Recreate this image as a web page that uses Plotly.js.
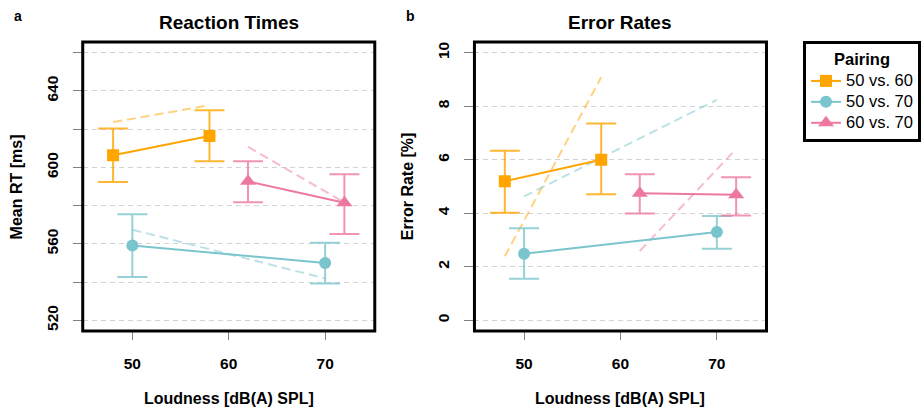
<!DOCTYPE html>
<html>
<head>
<meta charset="utf-8">
<script src="https://cdn.plot.ly/plotly-3.0.1.min.js"></script>
<style>html,body{margin:0;padding:0;background:#fff;}#chart{width:921px;height:412px;}</style>
</head>
<body>
<div id="chart"></div>
<script>
// ---------- data ----------
const pairings = ["50 vs. 60", "50 vs. 70", "60 vs. 70"];
const xPos_5060 = [48, 58];
const xPos_5070 = [50, 70];
const xPos_6070 = [62, 72];

// Reaction times (ms): mean, upper CI, lower CI, dashed reference line
const rt_5060 = [606.4, 616.4];
const rt_5060_hi = [620.4, 629.9];
const rt_5060_lo = [592.3, 603.2];
const rt_5060_dash = [623.7, 632.5];

const rt_5070 = [559.1, 550.0];
const rt_5070_hi = [575.5, 560.6];
const rt_5070_lo = [542.6, 539.3];
const rt_5070_dash = [567.4, 541.9];

const rt_6070 = [592.7, 581.5];
const rt_6070_hi = [603.2, 596.4];
const rt_6070_lo = [581.7, 565.2];
const rt_6070_dash = [610.7, 581.7];

// Error rates (%)
const er_5060 = [5.20, 6.00];
const er_5060_hi = [6.34, 7.35];
const er_5060_lo = [4.02, 4.71];
const er_5060_dash = [2.39, 9.08];

const er_5070 = [2.49, 3.30];
const er_5070_hi = [3.44, 3.90];
const er_5070_lo = [1.55, 2.67];
const er_5070_dash = [4.63, 8.24];

const er_6070 = [4.75, 4.69];
const er_6070_hi = [5.46, 5.35];
const er_6070_lo = [3.99, 3.92];
const er_6070_dash = [2.59, 6.40];

const xTicks = [50, 60, 70];
const rtTickVals = [520, 540, 560, 580, 600, 620, 640, 660];
const rtTickText = ["520", "", "560", "", "600", "", "640", ""];
const erTickVals = [0, 2, 4, 6, 8, 10];
const erTickText = ["0", "2", "4", "6", "8", "10"];

// ---------- styles ----------
const FONT = "Liberation Sans, Arial, Helvetica, sans-serif";
const cols = ["#FFA500", "#7AC5CD", "#EE799F"];
const colsErr = ["rgba(255,165,0,0.8)", "rgba(122,197,205,0.8)", "rgba(238,121,159,0.8)"];
const colsDash = ["rgba(255,165,0,0.5)", "rgba(122,197,205,0.5)", "rgba(238,121,159,0.5)"];
const symbols = ["square", "circle", "triangle-up"];
const msize = [12, 12, 14];

function diff(a, b) { return a.map((v, i) => v - b[i]); }

function panelTraces(xs, means, his, los, dashes, xa, ya, legend) {
  const out = [];
  for (let k = 0; k < 3; k++) {
    out.push({
      x: xs[k], y: dashes[k], xaxis: xa, yaxis: ya, type: "scatter", mode: "lines",
      line: {color: colsDash[k], width: 2, dash: "9px,5px"}, showlegend: false, hoverinfo: "skip"
    });
  }
  for (let k = 0; k < 3; k++) {
    out.push({
      x: xs[k], y: means[k], xaxis: xa, yaxis: ya, type: "scatter", mode: "lines+markers",
      name: '<span style="font-size:16.5px">' + pairings[k] + '</span>', showlegend: legend,
      line: {color: cols[k], width: 2},
      marker: {color: cols[k], symbol: symbols[k], size: msize[k]},
      error_y: {type: "data", symmetric: false, array: diff(his[k], means[k]),
                arrayminus: diff(means[k], los[k]), color: colsErr[k], thickness: 2, width: 15}
    });
  }
  return out;
}

const xs = [xPos_5060, xPos_5070, xPos_6070];
const data = [].concat(
  panelTraces(xs, [rt_5060, rt_5070, rt_6070], [rt_5060_hi, rt_5070_hi, rt_6070_hi],
              [rt_5060_lo, rt_5070_lo, rt_6070_lo], [rt_5060_dash, rt_5070_dash, rt_6070_dash], "x", "y", true),
  panelTraces(xs, [er_5060, er_5070, er_6070], [er_5060_hi, er_5070_hi, er_6070_hi],
              [er_5060_lo, er_5070_lo, er_6070_lo], [er_5060_dash, er_5070_dash, er_6070_dash], "x2", "y2", false)
);

const W = 921, H = 412;
const px = v => v / W, py = v => 1 - v / H;

function xAxis(dom, anchor) {
  return {domain: dom, anchor: anchor, range: [44.85, 75.15], tickvals: xTicks, ticktext: xTicks.map(String),
    ticks: "outside", ticklen: 8, tickwidth: 1, tickcolor: "#808080", showgrid: false, zeroline: false,
    showline: false, tickfont: {family: FONT, size: 15.5, color: "#000", weight: "bold"}, ticklabelstandoff: 10,
    fixedrange: true};
}
function yAxis(dom, anchor, range, vals, text) {
  return {domain: dom, anchor: anchor, range: range, tickvals: vals, ticktext: text,
    ticks: "outside", ticklen: 9, tickwidth: 1, tickcolor: "#808080", showgrid: true,
    gridcolor: "#D3D3D3", griddash: "5px,4px", gridwidth: 1, zeroline: false, showline: false,
    tickangle: -90, tickfont: {family: FONT, size: 15.5, color: "#000", weight: "bold"}, ticklabelstandoff: 9,
    fixedrange: true};
}

const yDom = [py(331), py(42)];
const layout = {
  width: W, height: H, margin: {l: 0, r: 0, t: 0, b: 0}, paper_bgcolor: "#fff", plot_bgcolor: "#fff",
  font: {family: FONT, color: "#000"},
  xaxis: xAxis([px(83), px(376)], "y"),
  yaxis: yAxis(yDom, "x", [514.4, 665.6], rtTickVals, rtTickText),
  xaxis2: xAxis([px(476), px(769)], "y2"),
  yaxis2: yAxis(yDom, "x2", [-0.4, 10.4], erTickVals, erTickText),
  showlegend: true,
  legend: {x: px(806), y: py(41), xanchor: "left", yanchor: "top", bordercolor: "#000", borderwidth: 3,
    bgcolor: "#fff", font: {family: FONT, size: 13.8, color: "#000"},
    title: {text: "Pairing", side: "top center", font: {family: FONT, size: 16.5, color: "#000", weight: "bold"}}},
  shapes: [
    {type: "rect", xref: "x domain", yref: "y domain", x0: 0, x1: 1, y0: 0, y1: 1, line: {color: "#000", width: 3}},
    {type: "rect", xref: "x2 domain", yref: "y2 domain", x0: 0, x1: 1, y0: 0, y1: 1, line: {color: "#000", width: 3}}
  ],
  annotations: [
    {text: "Reaction Times", xref: "paper", yref: "paper", x: px(229.5), y: py(23), showarrow: false,
      font: {size: 19, weight: "bold"}, xanchor: "center", yanchor: "middle"},
    {text: "Error Rates", xref: "paper", yref: "paper", x: px(622.5), y: py(23), showarrow: false,
      font: {size: 19, weight: "bold"}, xanchor: "center", yanchor: "middle"},
    {text: "a", xref: "paper", yref: "paper", x: px(18), y: py(16), showarrow: false,
      font: {size: 14, weight: "bold"}, xanchor: "center", yanchor: "middle"},
    {text: "b", xref: "paper", yref: "paper", x: px(412), y: py(16), showarrow: false,
      font: {size: 14, weight: "bold"}, xanchor: "center", yanchor: "middle"},
    {text: "Loudness [dB(A) SPL]", xref: "paper", yref: "paper", x: px(229.5), y: py(398), showarrow: false,
      font: {size: 16, weight: "bold"}, xanchor: "center", yanchor: "middle"},
    {text: "Loudness [dB(A) SPL]", xref: "paper", yref: "paper", x: px(622.5), y: py(398), showarrow: false,
      font: {size: 16, weight: "bold"}, xanchor: "center", yanchor: "middle"},
    {text: "Mean RT [ms]", xref: "paper", yref: "paper", x: px(17), y: py(186.5), showarrow: false,
      textangle: -90, font: {size: 16, weight: "bold"}, xanchor: "center", yanchor: "middle"},
    {text: "Error Rate [%]", xref: "paper", yref: "paper", x: px(409), y: py(186.5), showarrow: false,
      textangle: -90, font: {size: 16, weight: "bold"}, xanchor: "center", yanchor: "middle"}
  ]
};

Plotly.newPlot("chart", data, layout, {displayModeBar: false, staticPlot: true});
</script>
</body>
</html>
